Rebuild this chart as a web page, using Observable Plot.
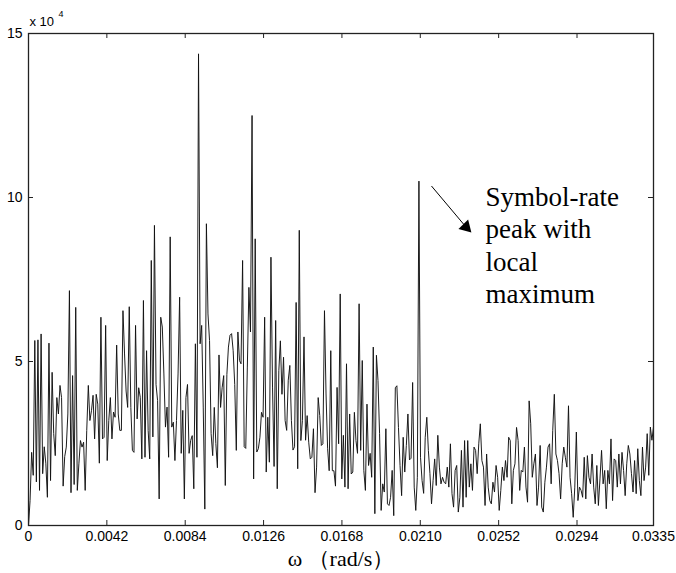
<!DOCTYPE html>
<html><head><meta charset="utf-8">
<script src="https://cdn.jsdelivr.net/npm/d3@7"></script>
<script src="https://cdn.jsdelivr.net/npm/@observablehq/plot@0.6"></script>
<style>body{margin:0;background:#fff}#chart{width:676px;height:573px}</style>
</head><body><div id="chart"></div>
<script>
// ---- data (values in units of 10^4) ----
const omegaMax = 0.0335;
const xTickValues = [0, 0.0042, 0.0084, 0.0126, 0.0168, 0.0210, 0.0252, 0.0294, 0.0335];
const xTickLabels = ["0", "0.0042", "0.0084", "0.0126", "0.0168", "0.0210", "0.0252", "0.0294", "0.0335"];
const yTickValues = [0, 5, 10, 15];
const yTickLabels = ["0", "5", "10", "15"];
const yScaleBase = "x 10";
const yScalePower = "4";
const xAxisTitle = "ω （rad/s）";
const annotationLines = ["Symbol-rate", "peak with", "local", "maximum"];

const spectrum = [
  0, 0.76, 2.23, 1.53, 5.64, 1.33, 5.66, 1.07, 5.84, 1.58, 2.4, 1.9, 0.86, 5.56, 1.37, 4.67, 2.8, 2.13, 3.9, 3.4,
  4.27, 3.9, 1.2, 2.1, 2.39, 3.4, 7.16, 1.0, 4.57, 1.25, 6.65, 1.07, 1.88, 2.59, 2.39, 2.54, 1.07, 2.9, 4.27, 3.2,
  3.5, 3.97, 2.64, 4.0, 3.7, 1.9, 6.35, 2.64, 2.69, 6.1, 1.98, 3.2, 3.9, 2.64, 3.46, 3.3, 5.5, 3.4, 2.9, 2.9,
  6.55, 5.23, 4.1, 3.6, 6.67, 3.6, 2.29,
  2.23, 6.1, 3.25, 4.2, 3.91, 2.03, 6.86, 2.08, 5.33, 2.9, 2.03, 8.08, 2.7, 9.15, 4.3, 3.81, 0.81, 6.35, 6.05, 4.62,
  3.0, 3.61, 2.08, 8.8, 3.0, 3.15, 1.98, 3.2, 4.62, 6.96, 2.2, 3.51, 0.81, 3.9, 4.3, 2.2, 2.59, 2.74, 1.12, 5.54,
  2.08, 14.38,
  5.54, 6.1, 3.61, 0.5, 9.2, 6.45, 5.64, 2.8, 2.13, 3.6, 2.5, 1.76, 5.2, 3.6, 4.2, 4.57, 1.22, 4.6, 5.44, 5.8,
  5.85, 5.33, 4.3, 2.29, 5.9, 5.03, 4.93, 8.08, 2.4, 2.35, 4.83, 7.26, 5.9, 12.5,
  1.42, 8.74, 2.24, 2.34, 2.69, 3.45, 3.3, 6.35, 1.63, 3.3, 1.93, 8.18, 4.22, 1.8, 6.25, 1.12, 4.72, 5.63, 4.0, 5.13,
  3.2, 2.9, 4.43, 4.88, 3.2, 2.3, 2.4, 6.8, 1.73, 9.0, 2.59, 3.2, 5.75, 2.6, 3.35, 2.54, 2.03, 2.08, 2.95, 1.0,
  1.78, 3.9, 3.35, 2.44, 2.49, 6.55, 4.01, 2.34, 1.67, 5.33, 1.67, 1.67, 1.2, 4.21,
  2.49, 7.06, 1.42, 2.75, 1.17, 4.93, 1.12, 3.4, 1.57, 1.63, 3.45, 2.59, 2.2, 6.76, 2.29, 5.03, 1.68, 1.07, 3.7, 1.83,
  2.2, 1.47, 5.44, 0.36, 5.19, 4.42, 2.8, 0.46, 1.27, 1.02, 2.95, 0.66, 0.61, 0.86, 1.68, 0.3, 4.2, 4.26, 2.99, 1.83,
  0.91, 2.69, 1.63, 2.44, 3.4, 2.0, 2.05, 4.36, 1.17, 0.46, 1.47, 10.5,
  2.08, 1.37, 0.98, 2.69, 3.3, 2.29, 1.58, 0.66, 1.37, 2.03, 1.22, 2.75, 1.78, 1.27,
  1.47, 1.32, 1.27, 1.78, 1.17, 2.49, 0.97, 0.56, 1.68, 1.83, 0.41, 0.86, 2.29, 0.56, 2.59, 0.86, 2.59, 1.17, 1.88, 1.07,
  2.39, 2.29, 1.58, 2.49, 3.1, 1.98, 1.78, 0.61, 2.18, 1.17, 0.76, 0.66, 1.32, 1.02, 1.83, 1.47, 0.46, 1.07, 1.78, 1.37,
  1.98, 1.47, 2.69, 2.59, 0.66, 1.68, 1.88, 2.99, 2.59, 1.07, 1.68, 1.63, 2.39, 1.17, 0.71, 3.8, 3.1, 1.47, 1.88, 2.18,
  0.61, 1.17, 2.44, 0.56, 0.41, 1.32, 1.78, 2.39,
  2.49, 1.27, 2.9, 4.0, 2.18, 1.98, 1.58, 0.81, 1.88, 2.39, 2.08, 1.78, 3.65, 1.47, 0.97, 0.25, 1.17, 2.85, 0.76, 1.17,
  1.07, 0.86, 2.08, 0.81, 2.13, 1.47, 1.27, 2.18, 1.17, 0.66, 1.83, 0.61, 1.42, 2.29, 1.27, 1.68, 0.51, 1.68, 1.27, 2.64,
  0.76, 2.03, 1.98, 1.17, 2.18, 1.27, 2.23, 1.68, 0.91, 1.88, 2.44, 2.18, 1.58, 1.02, 1.98, 0.97, 2.34, 1.37, 0.91, 2.39,
  1.37, 1.78, 2.8, 1.53, 3.0, 2.6, 3.0
];

// frequency bins are evenly spaced from 0 to omegaMax
const data = spectrum.map((v, i) => ({omega: i * omegaMax / (spectrum.length - 1), value: v}));

const yMax = 15;
const tickLenY = yMax * 5 / 492;        // ~5px inward tick
const tickLenX = omegaMax * 5 / 625;

const serif = "'Liberation Serif', 'Times New Roman', serif";
const sans = "'Liberation Sans', Arial, sans-serif";

const chart = Plot.plot({
  width: 676, height: 573,
  marginLeft: 28, marginRight: 23, marginTop: 33, marginBottom: 48,
  x: {domain: [0, omegaMax]},
  y: {domain: [0, yMax]},
  style: {fontFamily: sans, fontSize: "14px", background: "#fff", color: "#000", overflow: "visible"},
  marks: [
    Plot.axisX({ticks: xTickValues, tickFormat: d => xTickLabels[xTickValues.indexOf(d)], tickSize: 0, tickPadding: 6, label: null, fontSize: 14}),
    Plot.axisY({ticks: yTickValues, tickFormat: d => yTickLabels[yTickValues.indexOf(d)], tickSize: 0, tickPadding: 6, label: null, fontSize: 14}),
    Plot.line(data, {x: "omega", y: "value", stroke: "#111", strokeWidth: 0.95}),
    Plot.ruleX(xTickValues, {y1: 0, y2: tickLenY, stroke: "#222"}),
    Plot.ruleX(xTickValues, {y1: yMax - tickLenY, y2: yMax, stroke: "#222"}),
    Plot.ruleY(yTickValues, {x1: 0, x2: tickLenX, stroke: "#222"}),
    Plot.ruleY(yTickValues, {x1: omegaMax - tickLenX, x2: omegaMax, stroke: "#222"}),
    Plot.frame({stroke: "#222", strokeWidth: 1.3}),
    Plot.text([yScaleBase], {frameAnchor: "top-left", dx: 1, dy: -8, textAnchor: "start", lineAnchor: "bottom", fontSize: 13}),
    Plot.text([yScalePower], {frameAnchor: "top-left", dx: 30, dy: -17, textAnchor: "start", lineAnchor: "bottom", fontSize: 9}),
    Plot.text([xAxisTitle], {frameAnchor: "bottom", dy: 33, lineAnchor: "middle", fontFamily: serif, fontSize: 22}),
    Plot.link([0], {x1: 0.0216, y1: 10.35, x2: 0.02345, y2: 9.1, stroke: "#000", strokeWidth: 1}),
    Plot.dot([0], {x: 0.02345, y: 9.1, symbol: "triangle", r: 5, fill: "#000", stroke: "none", rotate: 136}),
    Plot.text([annotationLines.join("\n")], {x: 0.0245, y: 10.45, textAnchor: "start", lineAnchor: "top", fontFamily: serif, fontSize: 27, lineHeight: 1.2})
  ]
});
document.getElementById("chart").appendChild(chart);
</script>
</body></html>
